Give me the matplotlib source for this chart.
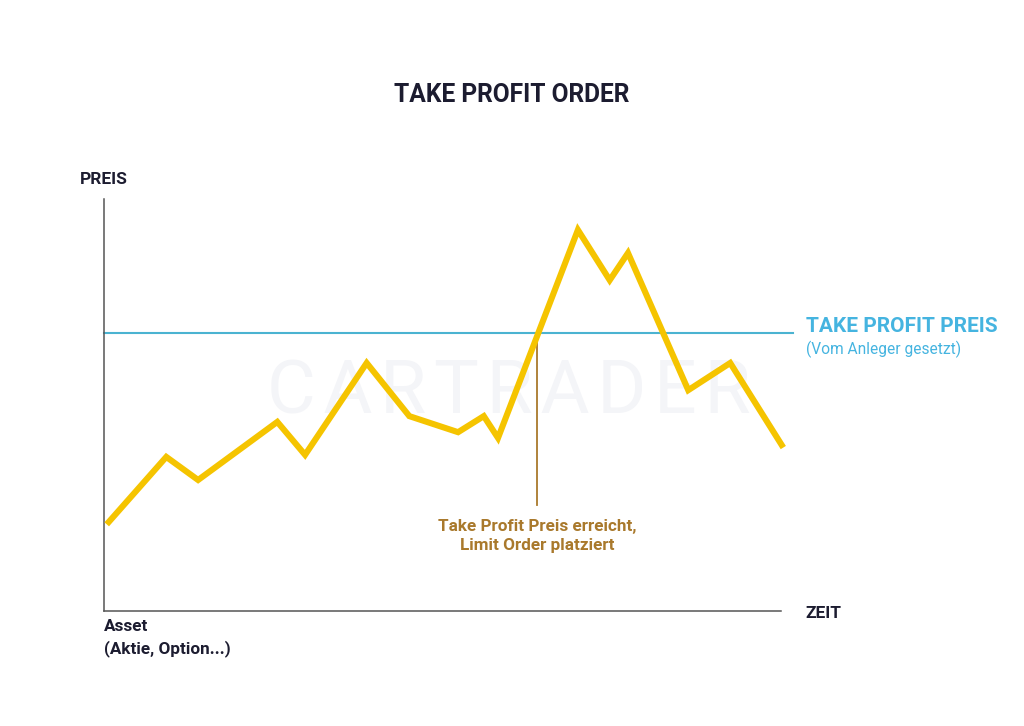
import matplotlib
matplotlib.use("Agg")
import matplotlib.pyplot as plt

# Data (time units 0..100, price units 0..100)
time = [0.7, 9.2, 13.9, 25.6, 29.7, 38.8, 45.1, 52.3, 56.1, 58.2, 70.0, 74.7, 77.4, 86.3, 92.5, 100.1]
price = [21.6, 37.4, 31.8, 45.9, 37.9, 60.2, 47.3, 43.4, 47.3, 42.0, 92.5, 80.3, 86.9, 53.6, 60.2, 40.3]
take_profit = 67.5
hit_time = 64.0
hit_bottom = 25.7

title = "TAKE PROFIT ORDER"
y_label = "PREIS"
x_label = "ZEIT"
asset_label = "Asset\n(Aktie, Option...)"
tp_label = "TAKE PROFIT PREIS"
tp_sub = "(Vom Anleger gesetzt)"
hit_label = "Take Profit Preis erreicht,\nLimit Order platziert"
watermark = "CARTRADER"

plt.rcParams['font.family'] = ['Roboto', 'DejaVu Sans']

W, H = 1024, 726
fig = plt.figure(figsize=(W / 100, H / 100), dpi=100)
fig.patch.set_facecolor("white")

ax = fig.add_axes([104 / W, (H - 611) / H, (781 - 104) / W, (611 - 199) / H])
ax.set_xlim(0, 100)
ax.set_ylim(0, 100)
ax.set_xticks([])
ax.set_yticks([])
for s in ["top", "right"]:
    ax.spines[s].set_visible(False)
for s in ["left", "bottom"]:
    ax.spines[s].set_color("#555555")
    ax.spines[s].set_linewidth(1.1)

# watermark (letter-spaced)
ax.text(59.8, 53, "\u200a".join(watermark), ha="center", va="center", fontsize=54,
        fontweight="normal", color="#f4f5f8", zorder=0)

ax.plot([0, 101.7], [take_profit, take_profit], color="#4bb3d1", lw=1.5, clip_on=False, zorder=2)
ax.plot([hit_time, hit_time], [hit_bottom, take_profit], color="#a9792c", lw=1.3, zorder=2)
ax.plot(time, price, color="#f5c400", lw=4.4, solid_joinstyle="miter", clip_on=False, zorder=3)

navy = "#1c1c30"
fig.text(512 / W, 1 - 95 / H, title, ha="center", va="center", fontsize=17.7, fontweight="bold", color=navy)
fig.text(104 / W, 1 - 179 / H, y_label, ha="center", va="center", fontsize=12.5, fontweight="bold", color=navy)
fig.text(805 / W, 1 - 614 / H, x_label, ha="left", va="center", fontsize=12.5, fontweight="bold", color=navy)
fig.text(104 / W, 1 - 638 / H, asset_label, ha="left", va="center", fontsize=12.3, fontweight="bold",
         color=navy, linespacing=1.4)
fig.text(806 / W, 1 - 326 / H, tp_label, ha="left", va="center", fontsize=15, fontweight="bold", color="#45b4e0")
fig.text(806 / W, 1 - 349 / H, tp_sub, ha="left", va="center", fontsize=11.2, color="#45b4e0")
fig.text(537 / W, 1 - 536 / H, hit_label, ha="center", va="center", fontsize=12.3, fontweight="bold",
         color="#a9792c", linespacing=1.4)

fig.savefig("out.png", dpi=100, facecolor="white")
